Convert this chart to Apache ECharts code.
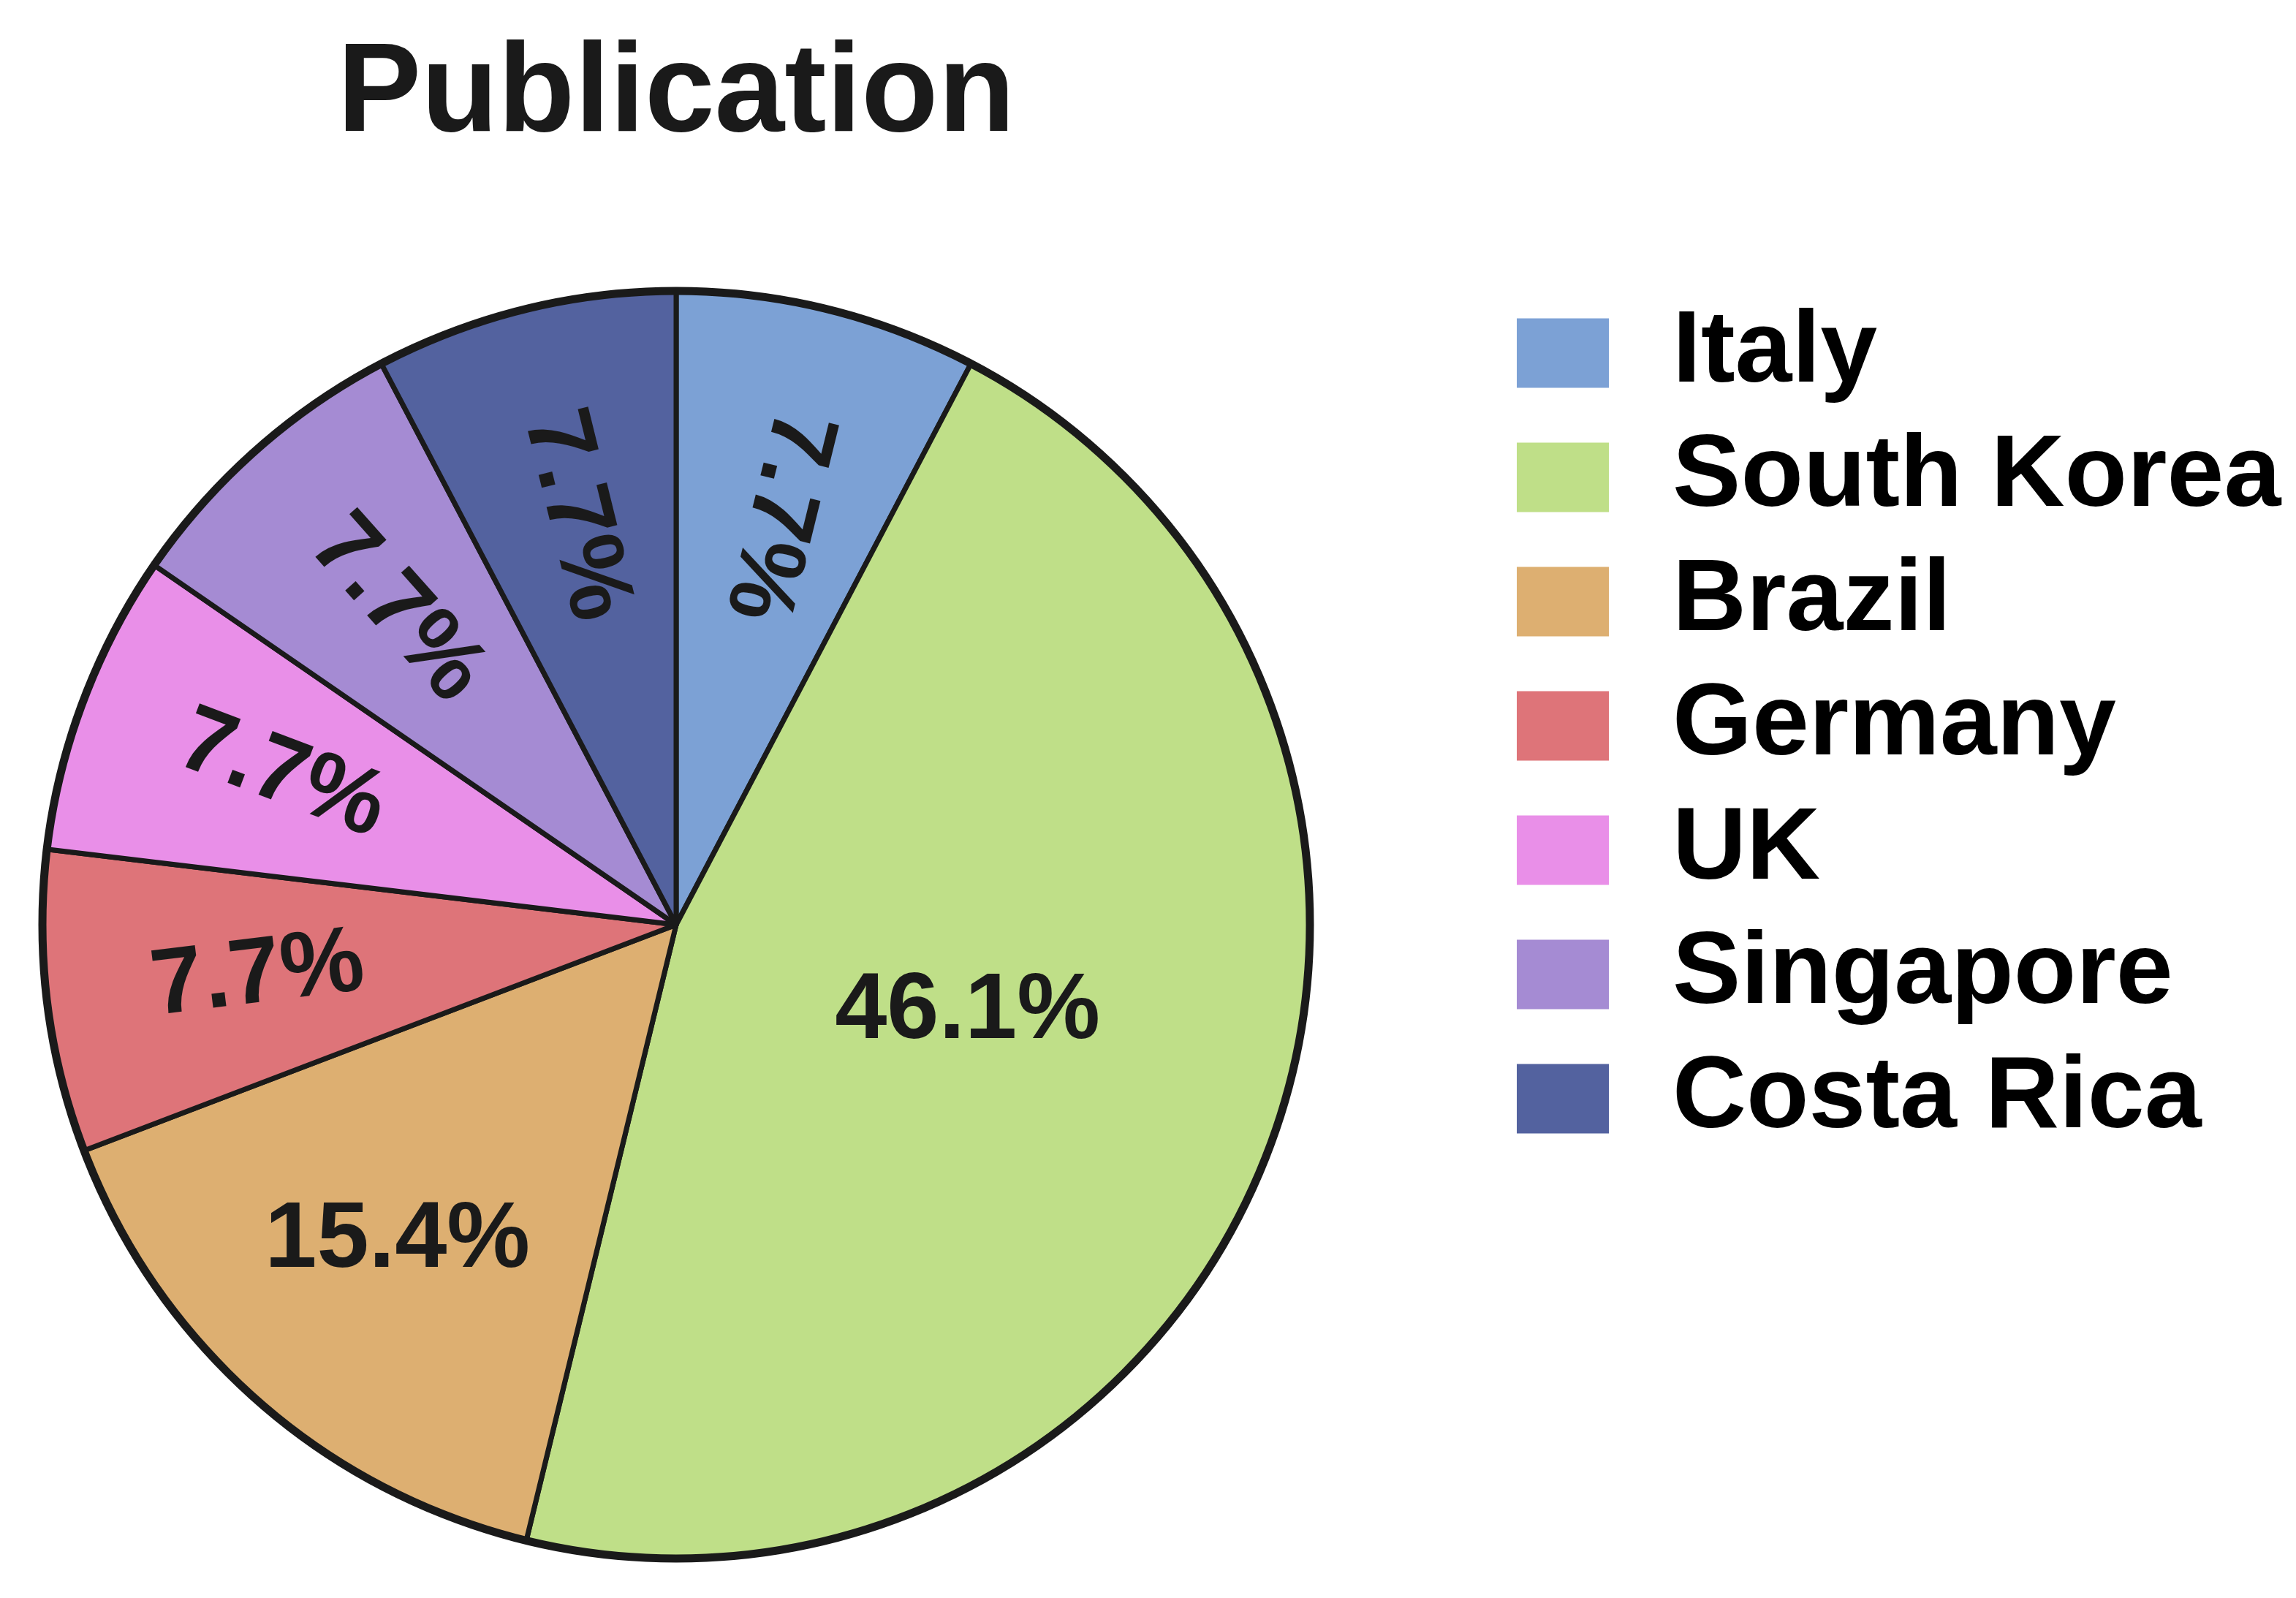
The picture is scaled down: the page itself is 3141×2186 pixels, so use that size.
<!DOCTYPE html>
<html>
<head>
<meta charset="utf-8">
<script src="https://cdn.jsdelivr.net/npm/echarts@6/dist/echarts.min.js"></script>
<style>
html,body{margin:0;padding:0;background:#fff;}
#chart{width:3141px;height:2186px;}
</style>
</head>
<body>
<div id="chart"></div>
<script>
// ---- data ----
const titleText = 'Publication';
const categories = ['Italy', 'South Korea', 'Brazil', 'Germany', 'UK', 'Singapore', 'Costa Rica'];
const shares = [7.7, 46.1, 15.4, 7.7, 7.7, 7.7, 7.7];
const colors = ['#7CA1D5', '#BFDF88', '#DDAF71', '#DE7479', '#E98FE8', '#A58BD3', '#53629F'];

// ---- layout / style constants ----
const CX = 925, CY = 1265, R = 867;
const FONT = "'Liberation Sans', Arial, Helvetica, sans-serif";
const INK = '#1a1a1a';

const total = shares.reduce((a, b) => a + b, 0);
let acc = 0;
const mids = shares.map(v => { const m = 90 - (acc + v / 2) / total * 360; acc += v; return m; });

const chart = echarts.init(document.getElementById('chart'), null, { renderer: 'canvas' });
chart.setOption({
  animation: false,
  backgroundColor: '#ffffff',
  title: {
    text: titleText,
    left: CX,
    top: 46,
    padding: 0,
    textAlign: 'center',
    textStyle: { fontFamily: FONT, fontWeight: 'bold', fontSize: 172, color: INK, lineHeight: 172 }
  },
  legend: {
    data: categories,
    orient: 'vertical',
    left: 2075,
    top: 413,
    padding: 0,
    icon: 'rect',
    itemWidth: 126,
    itemHeight: 95,
    itemGap: 30,
    selectedMode: false,
    itemStyle: { borderWidth: 0 },
    textStyle: { fontFamily: FONT, fontWeight: 'bold', fontSize: 140, lineHeight: 120, color: '#000', padding: [20, 0, 0, 82] }
  },
  series: [
    {
      type: 'pie',
      center: [CX, CY],
      radius: [0, R],
      startAngle: 90,
      clockwise: true,
      avoidLabelOverlap: false,
      minShowLabelAngle: 0,
      emphasis: { disabled: true },
      itemStyle: { borderColor: INK, borderWidth: 7 },
      label: {
        show: true,
        position: 'inside',
        formatter: p => p.value + '%',
        fontFamily: FONT,
        fontWeight: 'bold',
        fontSize: 128,
        color: INK
      },
      labelLine: { show: false },
      labelLayout: function (p) {
        const i = p.dataIndex;
        const m = mids[i];
        const big = shares[i] > 40;
        const k = big ? 0.48 : 0.665;
        const rad = (big ? m + 4 : m) * Math.PI / 180;
        return {
          x: CX + k * R * Math.cos(rad),
          y: CY - k * R * Math.sin(rad),
          rotate: shares[i] < 10 ? m - 180 : 0,
          align: 'center',
          verticalAlign: 'middle'
        };
      },
      data: categories.map((c, i) => ({ name: c, value: shares[i], itemStyle: { color: colors[i] } }))
    },
    {
      type: 'pie',
      center: [CX, CY],
      radius: [0, R],
      silent: true,
      emphasis: { disabled: true },
      label: { show: false },
      labelLine: { show: false },
      itemStyle: { color: 'rgba(0,0,0,0)', borderColor: INK, borderWidth: 11 },
      data: [{ name: '', value: 1 }]
    }
  ]
});
</script>
</body>
</html>
